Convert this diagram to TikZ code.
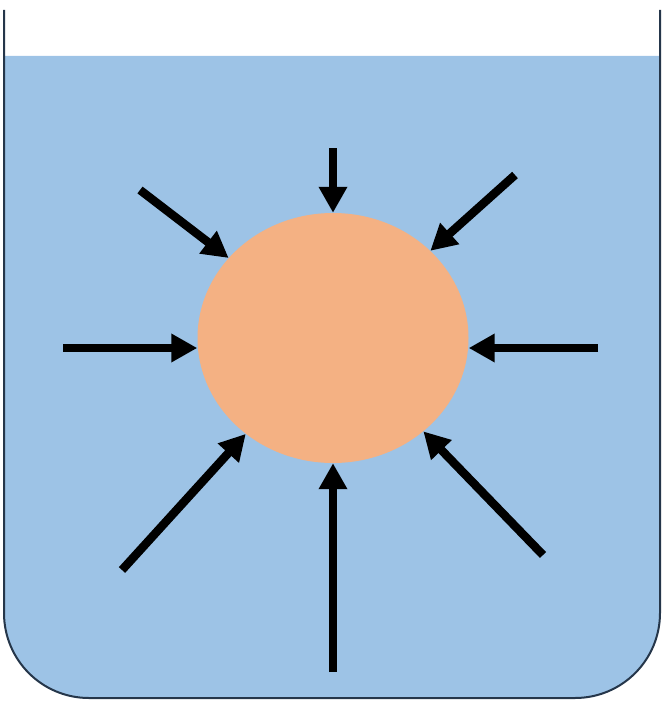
\documentclass[tikz,border=0pt]{standalone}
\usetikzlibrary{arrows.meta,shapes.geometric}
\definecolor{water}{HTML}{9DC3E6}
\definecolor{ball}{HTML}{F4B183}
\definecolor{wall}{HTML}{25364A}
\tikzset{
  arr/.style={line width=8.5pt,-{Triangle[length=26pt,width=27pt]}},
  ballnode/.style={ellipse,fill=ball,draw=none,minimum width=271pt,minimum height=250pt,inner sep=0pt}
}
\begin{document}
\begin{tikzpicture}[x=1pt,y=-1pt]
\useasboundingbox (0,0) rectangle (667,701);
\fill[water] (4,56) -- (4,613) .. controls (4,660) and (42,698) .. (89,698) -- (575,698) .. controls (622,698) and (660,660) .. (660,613) -- (660,56) -- cycle;
\draw[wall,line width=2pt] (4,10) -- (4,613) .. controls (4,660) and (42,698) .. (89,698) -- (575,698) .. controls (622,698) and (660,660) .. (660,613) -- (660,10);
\node[ballnode] (c) at (333,338) {};
\coordinate (t) at (333,148);
\coordinate (tl) at (140,190);
\coordinate (tr) at (515,175);
\coordinate (l) at (63,348);
\coordinate (r) at (598,348);
\coordinate (bl) at (122,570);
\coordinate (b) at (333,672);
\coordinate (br) at (543,555);
\draw[arr] (t) -- (c);
\draw[arr] (tl) -- (c);
\draw[arr] (tr) -- (c);
\draw[arr] (l) -- (l -| c.west);
\draw[arr] (r) -- (r -| c.east);
\draw[arr] (bl) -- (c);
\draw[arr] (b) -- (c);
\draw[arr] (br) -- (c);
\end{tikzpicture}
\end{document}
